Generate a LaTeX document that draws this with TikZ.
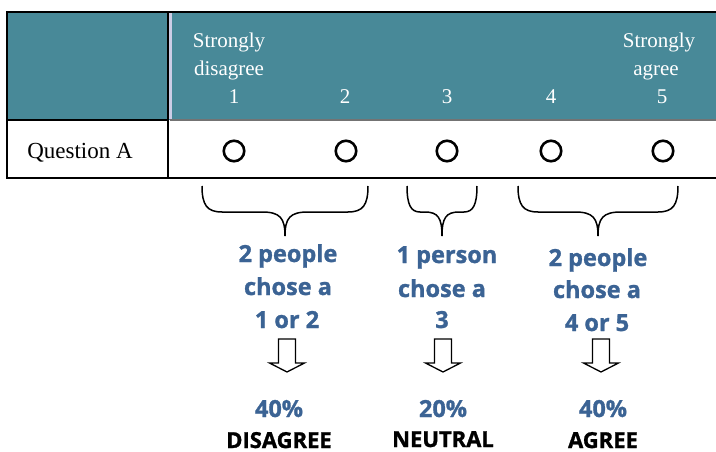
\documentclass[tikz,border=0pt]{standalone}
\usepackage{fontspec}
\setmainfont{Liberation Serif}
\newfontfamily\osans{Open Sans}[BoldFeatures={FakeBold=1.2}]
\definecolor{teal1}{RGB}{72,137,152}
\definecolor{blue1}{RGB}{59,99,148}
\definecolor{lav}{RGB}{205,205,230}
\begin{document}
\begin{tikzpicture}[x=1pt,y=-1pt,
  hdr/.style={text=white,font=\fontsize{21}{25}\selectfont,anchor=base,inner sep=0pt},
  qtext/.style={font=\fontsize{23}{27}\selectfont,anchor=base,inner sep=0pt},
  opt/.style={circle,draw=black,line width=2.6pt,minimum size=20.5pt,inner sep=0pt},
  bluet/.style={text=blue1,font=\osans\bfseries\fontsize{23.5}{28}\selectfont,anchor=base,inner sep=0pt},
  blackt/.style={text=black,font=\osans\bfseries\fontsize{22}{26}\selectfont,anchor=base,inner sep=0pt},
  bracel/.style={line width=1.5pt,line join=round},
  hollowarrow/.pic={\draw[line width=1.3pt,line join=miter] (-8.5,0) -- (-8.5,24) -- (-17.5,24) -- (0,33) -- (17.5,24) -- (8.5,24) -- (8.5,0) -- cycle;}
]
\useasboundingbox (0,0) rectangle (716,452);
% table
\fill[teal1] (7,12) rectangle (716,120);
\fill[lav] (169,13) rectangle (171.5,119);
\draw[black!55,line width=2pt] (170,120) -- (716,120);
\draw[black,line width=1.2pt] (7,120) -- (168,120);
\draw[black,line width=1.2pt] (716,12) -- (7,12) -- (7,178) -- (716,178);
\draw[black,line width=1.5pt] (168,12) -- (168,178);
% header
\node[hdr] (sd1) at (229,48) {Strongly};
\node[hdr] (sd2) at (229,76) {disagree};
\node[hdr] (sa1) at (659,48) {Strongly};
\node[hdr] (sa2) at (656,76) {agree};
\node[hdr] (n1) at (234,104) {1};
\node[hdr] (n2) at (345,104) {2};
\node[hdr] (n3) at (447,104) {3};
\node[hdr] (n4) at (551,104) {4};
\node[hdr] (n5) at (662,104) {5};
\node[qtext] (qa) at (80,158) {Question A};
% circles
\node[opt] (c1) at (234,151) {};
\node[opt] (c2) at (346,151) {};
\node[opt] (c3) at (447,151) {};
\node[opt] (c4) at (551,151) {};
\node[opt] (c5) at (663,151) {};
% braces
\draw[bracel] (202,186) .. controls (202,205) and (207,212) .. (222,212) -- (262,212) .. controls (280,212) and (285,218) .. (285,236);
\draw[bracel] (368,186) .. controls (368,205) and (363,212) .. (348,212) -- (308,212) .. controls (290,212) and (285,218) .. (285,236);
\draw[bracel] (407,186) .. controls (407,205) and (411,212) .. (420,212) -- (425,212) .. controls (438,212) and (442,218) .. (442,236);
\draw[bracel] (477,186) .. controls (477,205) and (473,212) .. (464,212) -- (459,212) .. controls (446,212) and (442,218) .. (442,236);
\draw[bracel] (518,186) .. controls (518,205) and (523,212) .. (538,212) -- (575,212) .. controls (593,212) and (598,218) .. (598,236);
\draw[bracel] (678,186) .. controls (678,205) and (673,212) .. (658,212) -- (621,212) .. controls (603,212) and (598,218) .. (598,236);
% blue text
\node[bluet] (a1) at (288,262) {2 people};
\node[bluet] (a2) at (288,295) {chose a};
\node[bluet] (a3) at (287,328) {1 or 2};
\node[bluet] (b1) at (447,263) {1 person};
\node[bluet] (b2) at (442,297) {chose a};
\node[bluet] (b3) at (442,328) {3};
\node[bluet] (d1) at (598,266) {2 people};
\node[bluet] (d2) at (597,298) {chose a};
\node[bluet] (d3) at (597,331) {4 or 5};
% arrows
\pic at (287,339) {hollowarrow};
\pic at (443,339) {hollowarrow};
\pic at (601,339) {hollowarrow};
% results
\node[bluet] (p1) at (279,417) {40\%};
\node[blackt] (r1) at (279,448) {DISAGREE};
\node[bluet] (p2) at (443,417) {20\%};
\node[blackt] (r2) at (443,447) {NEUTRAL};
\node[bluet] (p3) at (603,417) {40\%};
\node[blackt] (r3) at (603,448) {AGREE};
\end{tikzpicture}
\end{document}
